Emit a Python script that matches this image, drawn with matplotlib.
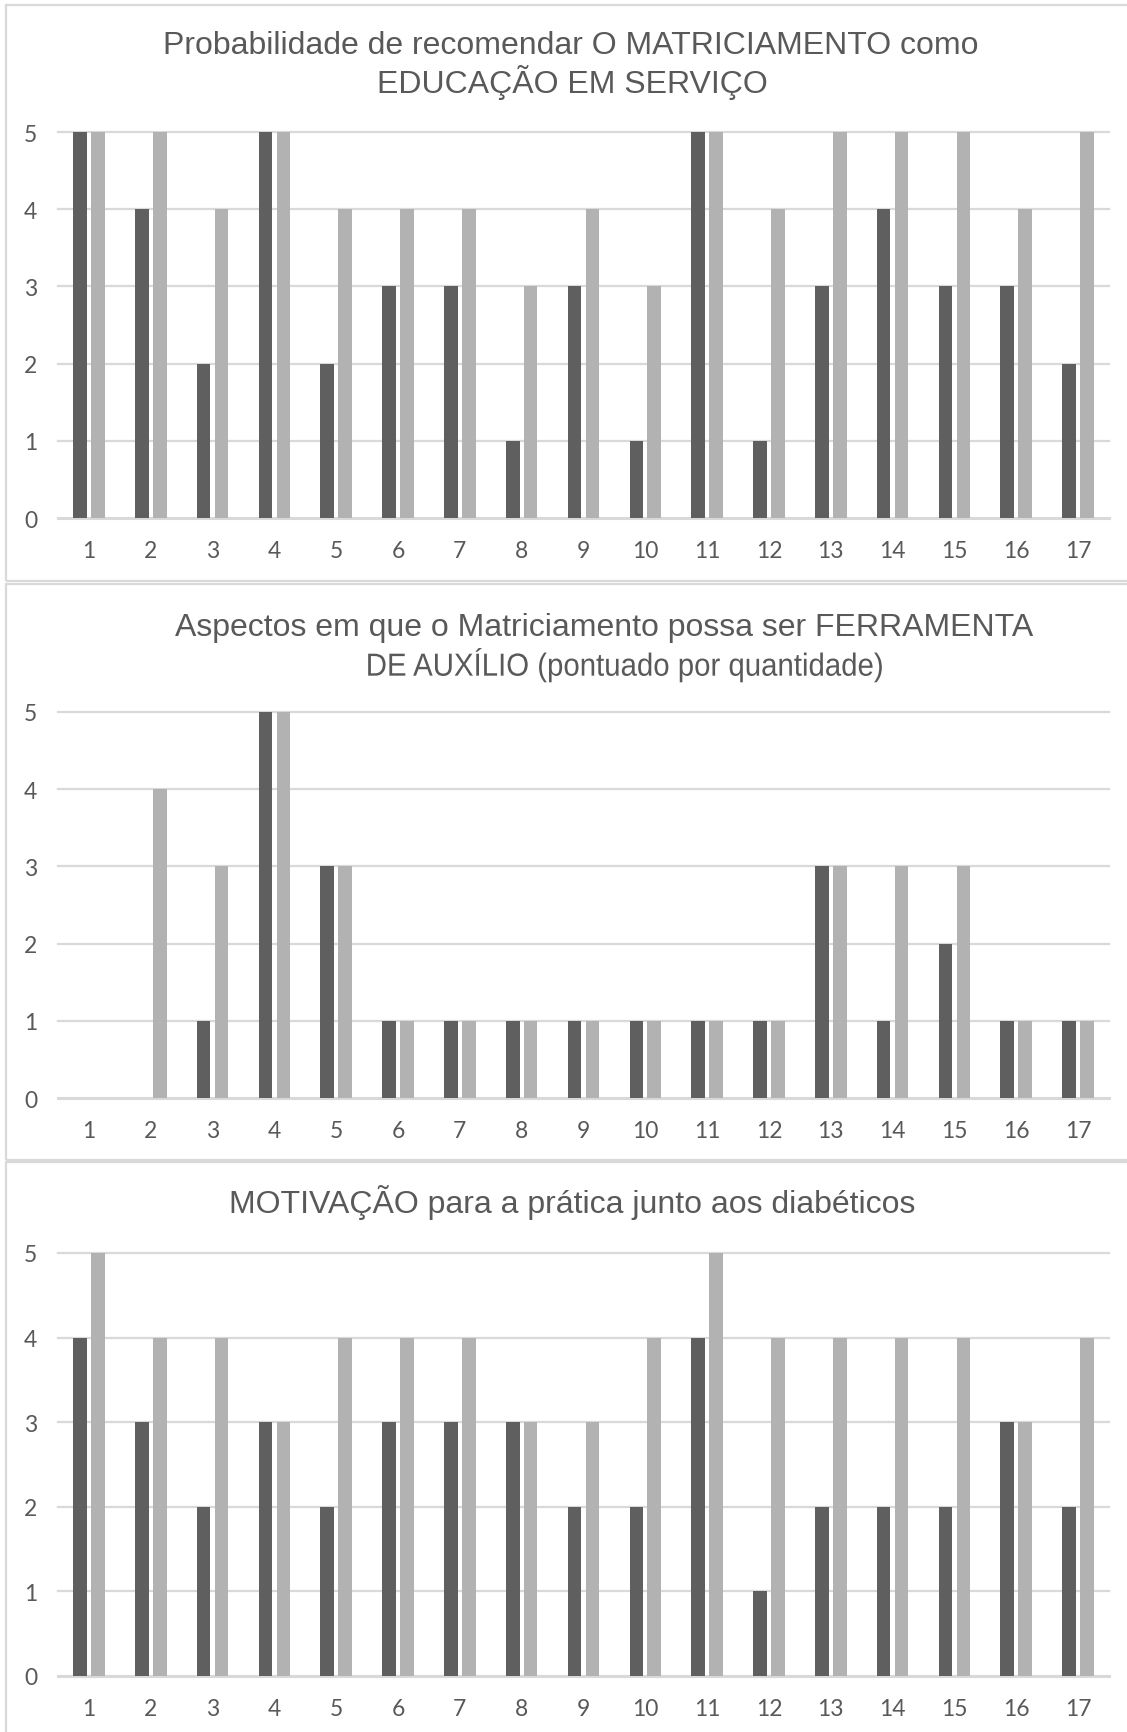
import matplotlib.pyplot as plt
from matplotlib.patches import Rectangle, PathPatch
from matplotlib.textpath import TextPath
from matplotlib.font_manager import FontProperties
from matplotlib.transforms import Affine2D
import numpy as np

# --- dados ---
participantes = [str(i) for i in range(1, 18)]

recomendar_a = [5, 4, 2, 5, 2, 3, 3, 1, 3, 1, 5, 1, 3, 4, 3, 3, 2]
recomendar_b = [5, 5, 4, 5, 4, 4, 4, 3, 4, 3, 5, 4, 5, 5, 5, 4, 5]

ferramenta_a = [0, 0, 1, 5, 3, 1, 1, 1, 1, 1, 1, 1, 3, 1, 2, 1, 1]
ferramenta_b = [0, 4, 3, 5, 3, 1, 1, 1, 1, 1, 1, 1, 3, 3, 3, 1, 1]

motivacao_a = [4, 3, 2, 3, 2, 3, 3, 3, 2, 2, 4, 1, 2, 2, 2, 3, 2]
motivacao_b = [5, 4, 4, 3, 4, 4, 4, 3, 3, 4, 5, 4, 4, 4, 4, 3, 4]

titulos = [
    ["Probabilidade de recomendar O MATRICIAMENTO como", "EDUCAÇÃO EM SERVIÇO"],
    ["Aspectos em que o Matriciamento possa ser FERRAMENTA", "DE AUXÍLIO (pontuado por quantidade)"],
    ["MOTIVAÇÃO para a prática junto aos diabéticos"],
]

# --- estilo ---
COR_ESCURA = '#5f5f5f'
COR_CLARA = '#b2b2b2'
COR_GRADE = '#d9d9d9'
COR_TEXTO = '#595959'
FONTE_TITULO = ['Liberation Sans', 'DejaVu Sans']
FONTE_EIXO = ['Lato', 'DejaVu Sans']
TAM_TITULO = 23

W, H = 1127, 1733
fig = plt.figure(figsize=(W / 100, H / 100), dpi=100)


def px_axes(left, top, right, bottom):
    return fig.add_axes([left / W, 1 - bottom / H, (right - left) / W, (bottom - top) / H])


def titulo_comprimido(texto, cx, cy, escala_x):
    # linha de titulo desenhada como caminho, com compressao horizontal
    prop = FontProperties(family=FONTE_TITULO[0])
    tam_px = TAM_TITULO * 100 / 72
    tp = TextPath((0, 0), texto, size=tam_px, prop=prop)
    ref = TextPath((0, 0), "Ap", size=tam_px, prop=prop).get_extents()
    bb = tp.get_extents()
    meio_y = (ref.y0 + ref.y1) / 2
    tr = (Affine2D().translate(-(bb.x0 + bb.x1) / 2, -meio_y)
          .scale(escala_x, 1).translate(cx, H - cy))
    fig.patches.append(PathPatch(tp, transform=tr, facecolor=COR_TEXTO,
                                 edgecolor='none', lw=0))


# molduras de cada grafico (em pixels)
molduras = [(6, 6, 582), (6, 585, 1161), (6, 1163, 1745)]
for x0, y0, y1 in molduras:
    fig.patches.append(Rectangle((x0 / W, 1 - y1 / H), (W + 10 - x0) / W, (y1 - y0) / H,
                                 transform=fig.transFigure, fill=False,
                                 edgecolor=COR_GRADE, linewidth=1.6))

# area de plotagem: topo (valor 5) e base (valor 0)
areas = [(133, 519), (713, 1099), (1254, 1677)]
centros_titulo = [[(571, 46), (572, 83)], [(604, 628), (625, 669)], [(572, 1202)]]
compressao = [[1, 1], [1, 0.92], [1]]
series = [(recomendar_a, recomendar_b), (ferramenta_a, ferramenta_b), (motivacao_a, motivacao_b)]

x = np.arange(len(participantes))
larg = 0.22
desl = 0.145

for (topo, base), (sa, sb), linhas, centros, comp in zip(areas, series, titulos,
                                                        centros_titulo, compressao):
    ax = px_axes(58, topo, 1109, base)
    ax.bar(x - desl, sa, width=larg, color=COR_ESCURA, zorder=3)
    ax.bar(x + desl, sb, width=larg, color=COR_CLARA, zorder=3)

    ax.set_xlim(-0.5, len(participantes) - 0.5)
    ax.set_ylim(0, 5)
    ax.set_yticks(range(0, 6))
    for v in range(0, 6):
        ax.axhline(v, color=COR_GRADE, linewidth=1.6 if v else 2.2, zorder=1, clip_on=False)

    ax.set_xticks(x)
    ax.set_xticklabels(participantes)
    ax.tick_params(axis='both', length=0, labelsize=16.5, labelcolor=COR_TEXTO)
    ax.tick_params(axis='x', pad=16)
    ax.tick_params(axis='y', pad=15)
    for lbl in ax.get_xticklabels() + ax.get_yticklabels():
        lbl.set_fontfamily(FONTE_EIXO)
    for s in ax.spines.values():
        s.set_visible(False)
    ax.set_facecolor('none')

    for texto, (cx, cy), esc in zip(linhas, centros, comp):
        if esc == 1:
            fig.text(cx / W, 1 - cy / H, texto, ha='center', va='center',
                     fontsize=TAM_TITULO, color=COR_TEXTO, family=FONTE_TITULO)
        else:
            titulo_comprimido(texto, cx, cy, esc)

fig.savefig('out.png', dpi=100)
